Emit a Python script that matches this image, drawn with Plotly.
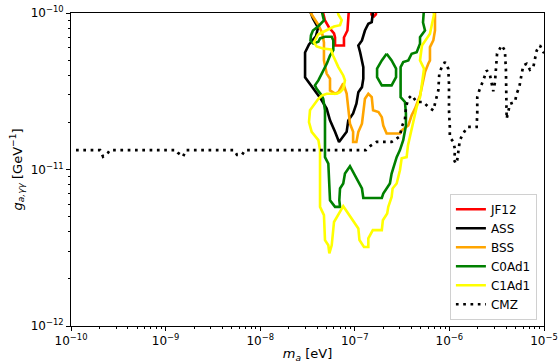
import plotly.graph_objects as go

# ---------------- data ----------------
jf12_m = [4.50e-8, 4.64e-8, 4.84e-8, 5.34e-8, 6.03e-8, 6.18e-8, 6.18e-8, 7.68e-8, 7.68e-8, 8.36e-8, 8.47e-8, 8.57e-8, 8.68e-8,
          None, 1.49e-7, 1.50e-7, 1.59e-7, 1.67e-7, 1.69e-7]
jf12_g = [1.07e-10, 9.93e-11, 8.96e-11, 8.08e-11, 7.40e-11, 6.98e-11, 6.20e-11, 6.20e-11, 6.98e-11, 7.73e-11, 9.23e-11, 9.93e-11, 1.07e-10,
          None, 1.07e-10, 9.78e-11, 9.50e-11, 9.78e-11, 1.07e-10]

ass_m = [3.28e-8, 3.61e-8, 4.09e-8, 3.88e-8, 3.28e-8, 2.98e-8, 2.98e-8, 3.36e-8, 4.29e-8, 5.04e-8, 5.47e-8, 6.18e-8, 6.81e-8,
         8.20e-8, 8.53e-8, 9.60e-8, 1.04e-7, 1.09e-7, 1.19e-7, 1.23e-7, 1.23e-7, 1.14e-7, 1.09e-7, 1.19e-7, 1.28e-7,
         1.39e-7, 1.51e-7, 1.55e-7, 1.56e-7]
ass_g = [1.07e-10, 9.23e-11, 8.08e-11, 7.08e-11, 6.30e-11, 5.59e-11, 3.88e-11, 3.50e-11, 2.88e-11, 2.45e-11, 2.06e-11, 1.74e-11, 1.50e-11,
         1.74e-11, 2.06e-11, 2.28e-11, 2.63e-11, 3.12e-11, 3.36e-11, 3.80e-11, 4.51e-11, 5.59e-11, 6.20e-11, 6.68e-11, 7.73e-11,
         8.54e-11, 8.74e-11, 9.93e-11, 1.07e-10]

bss_m = [3.28e-8, 3.50e-8, 4.09e-8, 4.50e-8, 4.72e-8, 4.72e-8, 5.04e-8, 5.47e-8, 5.47e-8, 6.18e-8, 6.70e-8, 7.55e-8, 8.20e-8,
         8.47e-8, 8.53e-8, 8.89e-8, 9.60e-8, 9.60e-8, 1.04e-7, 1.09e-7, 1.19e-7, 1.23e-7, 1.28e-7, 1.39e-7, 1.51e-7,
         1.56e-7, 1.78e-7, 1.93e-7, 2.00e-7, 2.17e-7, 3.00e-7, 3.13e-7, 3.68e-7, 3.99e-7, 4.33e-7, 4.89e-7, 5.30e-7,
         5.52e-7, 5.98e-7, 6.23e-7, 6.23e-7, 6.76e-7, 7.04e-7, 7.04e-7, 7.04e-7]
bss_g = [1.07e-10, 9.78e-11, 8.45e-11, 7.51e-11, 6.49e-11, 4.98e-11, 4.10e-11, 3.80e-11, 3.20e-11, 3.05e-11, 3.12e-11, 3.55e-11, 3.06e-11,
         2.64e-11, 2.39e-11, 1.96e-11, 1.74e-11, 1.50e-11, 1.50e-11, 1.74e-11, 1.96e-11, 2.33e-11, 2.83e-11, 3.05e-11, 2.90e-11,
         2.39e-11, 2.33e-11, 2.16e-11, 1.91e-11, 1.70e-11, 1.70e-11, 1.78e-11, 1.91e-11, 2.22e-11, 2.45e-11, 2.97e-11, 3.71e-11,
         4.19e-11, 4.74e-11, 4.98e-11, 6.05e-11, 6.68e-11, 7.73e-11, 9.78e-11, 1.07e-10]

c0ad1_m = [4.40e-8, 4.50e-8, 4.72e-8, 4.09e-8, 3.61e-8, 3.44e-8, 3.40e-8, 3.64e-8, 4.12e-8, 4.29e-8, 4.84e-8, 5.70e-8, 5.93e-8,
           5.93e-8, 5.47e-8, 5.08e-8, 4.61e-8, 4.12e-8, 3.79e-8, 3.95e-8, 4.47e-8, 4.64e-8, 4.84e-8, 4.84e-8, 5.25e-8,
           5.47e-8, 5.47e-8, 6.18e-8, 6.98e-8, 6.86e-8, 6.98e-8, 7.55e-8, 7.87e-8, 8.89e-8, 1.19e-7, 1.23e-7, 1.93e-7,
           2.00e-7, 2.35e-7, 2.45e-7, 2.77e-7, 3.00e-7, 3.25e-7, 3.47e-7, 3.47e-7, 3.39e-7, 3.05e-7, 3.05e-7, 3.25e-7,
           3.68e-7, 3.99e-7, 4.51e-7, 4.89e-7, 4.89e-7, 5.52e-7, 5.26e-7, 5.39e-7, 5.39e-7,
           None, 2.17e-7, 2.45e-7, 2.73e-7, 2.73e-7, 2.45e-7, 1.93e-7, 1.72e-7, 1.72e-7, 1.93e-7, 2.17e-7]
c0ad1_g = [1.07e-10, 9.93e-11, 8.96e-11, 8.20e-11, 7.73e-11, 7.19e-11, 6.68e-11, 6.39e-11, 6.55e-11, 6.88e-11, 7.05e-11, 7.05e-11, 6.68e-11,
           5.79e-11, 5.35e-11, 4.77e-11, 4.24e-11, 3.71e-11, 3.45e-11, 3.28e-11, 2.97e-11, 2.83e-11, 2.39e-11, 1.20e-11, 1.09e-11,
           7.37e-12, 6.36e-12, 5.77e-12, 5.77e-12, 6.36e-12, 7.56e-12, 8.14e-12, 9.42e-12, 1.05e-11, 7.56e-12, 6.58e-12, 6.58e-12,
           7.02e-12, 8.14e-12, 9.42e-12, 1.20e-11, 1.33e-11, 1.54e-11, 1.91e-11, 2.28e-11, 2.70e-11, 2.90e-11, 4.51e-11, 4.86e-11,
           4.98e-11, 5.49e-11, 5.62e-11, 6.36e-11, 7.01e-11, 7.73e-11, 8.70e-11, 9.93e-11, 1.07e-10,
           None, 5.49e-11, 4.98e-11, 4.41e-11, 3.89e-11, 3.45e-11, 3.45e-11, 3.89e-11, 4.41e-11, 4.98e-11, 5.49e-11]

c1ad1_m = [6.70e-7, 6.87e-7, 6.23e-7, 5.75e-7, 5.13e-7, 4.89e-7, 5.39e-7, 5.10e-7, 4.89e-7, 4.51e-7, 3.99e-7, 3.65e-7, 3.53e-7,
           3.13e-7, 3.00e-7, 2.77e-7, 2.51e-7, 2.45e-7, 2.26e-7, 2.20e-7, 1.98e-7, 1.93e-7, 1.55e-7, 1.39e-7, 1.39e-7,
           1.25e-7, 1.12e-7, 1.09e-7, 7.55e-8, 6.03e-8, 5.70e-8, 5.38e-8, 5.25e-8, 4.84e-8, 4.72e-8, 4.29e-8, 4.29e-8,
           4.12e-8, 3.50e-8, 3.28e-8, 3.36e-8, 3.64e-8, 4.12e-8, 4.47e-8, 5.04e-8, 6.44e-8, 6.98e-8, 7.55e-8, 7.87e-8,
           7.55e-8, 6.70e-8, 5.89e-8, 5.60e-8, 4.61e-8, 3.95e-8, 3.70e-8, 4.09e-8, 4.96e-8, 6.03e-8, 6.98e-8, 7.27e-8,
           6.70e-8, 6.49e-8]
c1ad1_g = [1.07e-10, 9.78e-11, 7.36e-11, 6.85e-11, 6.20e-11, 4.98e-11, 4.41e-11, 3.45e-11, 2.90e-11, 2.51e-11, 1.78e-11, 1.43e-11, 1.20e-11,
           1.18e-11, 9.89e-12, 8.14e-12, 7.56e-12, 6.68e-12, 5.77e-12, 5.24e-12, 4.74e-12, 4.10e-12, 4.10e-12, 3.63e-12, 3.20e-12,
           3.20e-12, 3.54e-12, 4.20e-12, 5.83e-12, 4.62e-12, 3.28e-12, 2.91e-12, 3.28e-12, 3.54e-12, 5.11e-12, 5.77e-12, 1.33e-11,
           1.54e-11, 1.74e-11, 2.01e-11, 2.39e-11, 2.56e-11, 2.83e-11, 2.97e-11, 3.05e-11, 3.05e-11, 3.12e-11, 3.28e-11, 3.71e-11,
           3.99e-11, 4.51e-11, 5.35e-11, 5.85e-11, 5.93e-11, 6.11e-11, 6.49e-11, 7.29e-11, 7.73e-11, 8.20e-11, 8.36e-11, 9.00e-11,
           9.78e-11, 1.07e-10]

cmz_m = [1.13e-10, 2.03e-10, 2.18e-10, 2.46e-10, 2.58e-10, 1.29e-9, 1.35e-9, 1.53e-9, 1.64e-9, 5.28e-9, 5.69e-9, 6.42e-9, 6.91e-9,
         1.31e-7, 1.45e-7, 1.70e-7, 2.45e-7, 3.00e-7, 3.13e-7, 3.39e-7, 3.48e-7, 3.68e-7, 3.99e-7, 4.51e-7, 5.30e-7, 5.98e-7,
         6.76e-7, 7.04e-7, 7.63e-7, 7.82e-7, 8.29e-7, 8.98e-7, 9.73e-7, 9.90e-7, 9.90e-7, 1.01e-6, 1.01e-6, 1.10e-6, 1.15e-6,
         1.12e-6, 1.17e-6, 1.21e-6, 1.24e-6, 1.29e-6, 1.40e-6, 1.55e-6, 1.94e-6, 1.97e-6, 1.97e-6, 2.07e-6, 2.28e-6, 2.48e-6,
         2.69e-6, 2.82e-6, 2.91e-6, 3.03e-6, 3.16e-6, 3.19e-6, 3.57e-6, 3.86e-6, 3.96e-6, 4.03e-6, 4.03e-6, 4.37e-6, 4.93e-6,
         5.14e-6, 5.48e-6, 5.81e-6, 6.04e-6, 6.56e-6, 7.10e-6, 7.71e-6, 8.02e-6, 8.37e-6, 9.06e-6, 9.83e-6, 1.01e-5]
cmz_g = [1.33e-11, 1.33e-11, 1.21e-11, 1.28e-11, 1.33e-11, 1.33e-11, 1.28e-11, 1.21e-11, 1.33e-11, 1.33e-11, 1.24e-11, 1.24e-11, 1.33e-11,
         1.33e-11, 1.41e-11, 1.50e-11, 1.50e-11, 1.63e-11, 1.87e-11, 2.09e-11, 2.51e-11, 2.84e-11, 2.98e-11, 2.70e-11, 2.70e-11, 2.51e-11,
         2.39e-11, 2.63e-11, 3.20e-11, 4.09e-11, 4.51e-11, 4.86e-11, 4.41e-11, 3.53e-11, 2.39e-11, 1.87e-11, 1.61e-11, 1.50e-11, 1.33e-11,
         1.15e-11, 1.09e-11, 1.15e-11, 1.33e-11, 1.54e-11, 1.70e-11, 1.87e-11, 1.87e-11, 2.28e-11, 2.90e-11, 3.20e-11, 3.71e-11, 4.30e-11,
         3.99e-11, 3.45e-11, 3.16e-11, 3.60e-11, 4.74e-11, 5.49e-11, 6.21e-11, 5.76e-11, 4.30e-11, 2.70e-11, 2.11e-11, 2.63e-11, 2.70e-11,
         3.05e-11, 3.36e-11, 4.09e-11, 4.62e-11, 4.74e-11, 4.34e-11, 4.51e-11, 5.10e-11, 5.76e-11, 6.21e-11, 5.62e-11, 5.60e-11]

x_ticks = [1e-10, 1e-9, 1e-8, 1e-7, 1e-6, 1e-5]
x_ticktext = ["10<sup>−10</sup>", "10<sup>−9</sup>", "10<sup>−8</sup>", "10<sup>−7</sup>", "10<sup>−6</sup>", "10<sup>−5</sup>"]
y_ticks = [1e-12, 1e-11, 1e-10]
y_ticktext = ["10<sup>−12</sup>", "10<sup>−11</sup>", "10<sup>−10</sup>"]

# ---------------- figure ----------------
FONT = "DejaVu Sans, Arial, sans-serif"
fig = go.Figure()

contours = [
    ("JF12", jf12_m, jf12_g, "#ff0000"),
    ("ASS", ass_m, ass_g, "#000000"),
    ("BSS", bss_m, bss_g, "#ffa500"),
    ("C0Ad1", c0ad1_m, c0ad1_g, "#008000"),
    ("C1Ad1", c1ad1_m, c1ad1_g, "#ffff00"),
]
for name, mx, gy, col in contours:
    fig.add_trace(go.Scatter(x=mx, y=gy, mode="lines", name=name,
                             line=dict(color=col, width=2.6), connectgaps=False))

fig.add_trace(go.Scatter(x=cmz_m, y=cmz_g, mode="lines", name="CMZ",
                         line=dict(color="black", width=2.7, dash="2.7px,4.6px")))

minor_x = [k * 10.0 ** e for e in range(-10, -5) for k in range(2, 10)]
minor_y = [k * 10.0 ** e for e in range(-12, -10) for k in range(2, 10)]

axis_common = dict(type="log", showgrid=False, zeroline=False, showline=True,
                   linecolor="black", linewidth=1, mirror=True, ticks="outside",
                   ticklen=4, tickwidth=1, tickcolor="black", ticklabeloverflow="allow",
                   tickfont=dict(family=FONT, size=12, color="black"))

fig.update_xaxes(range=[-10, -5], tickvals=x_ticks, ticktext=x_ticktext,
                 minor=dict(tickvals=minor_x, ticks="outside", ticklen=2, tickcolor="black", showgrid=False),
                 title=dict(text="<i>m</i><sub><i>a</i></sub> [eV]", font=dict(family=FONT, size=13, color="black"),
                            standoff=1),
                 **axis_common)
fig.update_yaxes(range=[-12, -10], tickvals=y_ticks, ticktext=y_ticktext,
                 minor=dict(tickvals=minor_y, ticks="outside", ticklen=2, tickcolor="black", showgrid=False),
                 title=dict(text="<i>g</i><sub><i>a,γγ</i></sub> [GeV<sup>−1</sup>]",
                            font=dict(family=FONT, size=13, color="black"), standoff=5),
                 **axis_common)

fig.update_layout(
    width=559, height=363,
    margin=dict(l=71, r=15, t=13, b=37, autoexpand=False),
    plot_bgcolor="white", paper_bgcolor="white",
    font=dict(family=FONT, size=11, color="black"),
    legend=dict(x=0.985, y=0.02, xanchor="right", yanchor="bottom",
                bgcolor="rgba(255,255,255,0.85)", bordercolor="#d0d0d0", borderwidth=1,
                font=dict(family=FONT, size=12, color="black"), tracegroupgap=0,
                itemwidth=30),
    showlegend=True,
)

fig.write_html("out.html", config={"displayModeBar": False, "staticPlot": True},
               post_script="document.body.style.margin='0';document.body.style.overflow='hidden';")
